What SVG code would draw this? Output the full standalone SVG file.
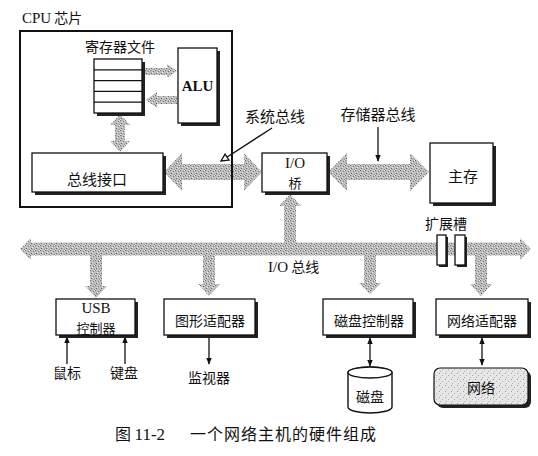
<svg xmlns="http://www.w3.org/2000/svg" width="538" height="456" viewBox="0 0 538 456">
<style>
.t{font-family:"Noto Sans CJK SC","Liberation Serif",serif;font-size:14px;fill:#111}
.s{font-family:"Liberation Serif","Noto Sans CJK SC",serif;font-size:14px;fill:#111}
.c{text-anchor:middle}
.box{fill:#fff;stroke:#111;stroke-width:1.3}
.sh{fill:#222}
.bus{fill:url(#stip)}
.ln{stroke:#111;stroke-width:1.3;fill:none}
</style>
<defs>
<pattern id="stip" width="5" height="5" patternUnits="userSpaceOnUse">
<rect width="5" height="5" fill="#bdbdbd"/>
<rect x="0" y="0" width="1" height="1" fill="#6a6a6a"/>
<rect x="3" y="1" width="1" height="1" fill="#777"/>
<rect x="1" y="3" width="1" height="1" fill="#666"/>
<rect x="4" y="4" width="1" height="1" fill="#888"/>
<rect x="2" y="2" width="1" height="1" fill="#e8e8e8"/>
<rect x="4" y="0" width="1" height="1" fill="#ececec"/>
<rect x="0" y="4" width="1" height="1" fill="#e0e0e0"/>
</pattern>
<pattern id="stip2" width="6" height="6" patternUnits="userSpaceOnUse">
<rect width="6" height="6" fill="#e6e6e6"/>
<rect x="1" y="1" width="1" height="1" fill="#999"/>
<rect x="4" y="3" width="1" height="1" fill="#aaa"/>
<rect x="2" y="5" width="1" height="1" fill="#b0b0b0"/>
</pattern>
<marker id="ah" viewBox="0 0 10 10" refX="9" refY="5" markerWidth="7" markerHeight="7" orient="auto-start-reverse" markerUnits="userSpaceOnUse">
<path d="M0,1 L10,5 L0,9 Z" fill="#111"/>
</marker>
<marker id="oh" viewBox="0 0 10 10" refX="9" refY="5" markerWidth="9" markerHeight="9" orient="auto" markerUnits="userSpaceOnUse">
<path d="M1,1 L9,5 L1,9 Z" fill="#fff" stroke="#111" stroke-width="1.4"/>
</marker>
</defs>
<rect width="538" height="456" fill="#fff"/>

<text class="t" x="22" y="23" style="font-size:14px"><tspan class="s" style="font-size:15px">CPU</tspan> 芯片</text>

<g id="connectors">
<polygon class="bus" points="20,249 31,238 31,242.5 520,242.5 520,238 531,249 520,260 520,255.5 31,255.5 31,260"/>
<polygon class="bus" points="164,172 182,153 182,164 244,164 244,153 262,172 244,191 244,180 182,180 182,191"/>
<polygon class="bus" points="328,172 347,153 347,164 410,164 410,153 429,172 410,191 410,180 347,180 347,191"/>
<polygon class="bus" points="144,68 167,68 167,64 177,71 167,78 167,75 144,75"/>
<polygon class="bus" points="146,100 157,92 157,96 177,96 177,104 157,104 157,108"/>
<polygon class="bus" points="120,114 130,125 125,125 125,141 130,141 120,152 110,141 115,141 115,125 110,125"/>
<polygon class="bus" points="284,250 284,206 279,206 290,194 301,206 296,206 296,250"/>
<polygon class="bus" points="90,254 102,254 102,286 107,286 96,298 85,286 90,286"/>
<polygon class="bus" points="203,254 215,254 215,284 220,284 209,296 198,284 203,284"/>
<polygon class="bus" points="364,254 376,254 376,283 381,283 370,294 359,283 364,283"/>
<polygon class="bus" points="475,254 487,254 487,284 492,284 481,296 470,284 475,284"/>
<line class="ln" x1="272" y1="128" x2="221" y2="161" marker-end="url(#oh)"/>
<line class="ln" x1="378" y1="127" x2="378" y2="161" marker-end="url(#ah)"/>
<line class="ln" x1="67" y1="364" x2="67" y2="337" marker-end="url(#ah)"/>
<line class="ln" x1="125" y1="364" x2="125" y2="337" marker-end="url(#ah)"/>
<line class="ln" x1="209" y1="337" x2="209" y2="364" marker-end="url(#ah)"/>
<line class="ln" x1="370" y1="338" x2="370" y2="366" marker-start="url(#ah)" marker-end="url(#ah)"/>
<line class="ln" x1="482" y1="338" x2="482" y2="365" marker-start="url(#ah)" marker-end="url(#ah)"/>
</g>

<g id="cpu-chip">
<rect x="20" y="31" width="212" height="176" fill="none" stroke="#111" stroke-width="2"/>
</g>

<g id="register-file">
<text class="t c" x="120" y="52">寄存器文件</text>
<rect class="sh" x="97" y="62" width="48" height="54"/>
<rect class="box" x="94" y="59" width="48" height="54"/>
<path class="ln" d="M94,69.8H142M94,80.6H142M94,91.4H142M94,102.2H142" stroke-width="1"/>
</g>

<g id="alu">
<rect class="sh" x="181" y="51" width="39" height="75"/>
<rect class="box" x="178" y="48" width="39" height="75"/>
<text class="s c" x="197.5" y="91" font-weight="bold" style="font-size:15px">ALU</text>
</g>

<g id="bus-interface">
<rect class="sh" x="35" y="156" width="131" height="39"/>
<rect class="box" x="32" y="153" width="131" height="39"/>
<text class="t c" x="97" y="185" style="font-size:15px">总线接口</text>
</g>

<text class="t c" x="275" y="122" style="font-size:15px">系统总线</text>
<text class="t c" x="378" y="120" style="font-size:15px">存储器总线</text>

<g id="io-bridge">
<rect class="sh" x="265" y="156" width="65" height="39"/>
<rect class="box" x="262" y="153" width="65" height="39"/>
<text class="s c" x="295" y="168" style="font-size:15px">I/O</text>
<text class="t c" x="295" y="188" style="font-size:13px">桥</text>
</g>

<g id="main-memory">
<rect class="sh" x="433" y="146" width="63" height="60"/>
<rect class="box" x="430" y="143" width="63" height="60"/>
<text class="t c" x="463" y="182" style="font-size:15px">主存</text>
</g>

<g id="expansion-slots">
<text class="t c" x="446" y="229">扩展槽</text>
<rect class="sh" x="439" y="237" width="9" height="30"/>
<rect class="box" x="437" y="235" width="9" height="30"/>
<rect class="sh" x="457" y="237" width="10" height="30"/>
<rect class="box" x="455" y="235" width="10" height="30"/>
</g>

<text class="t" x="268" y="272"><tspan class="s" style="font-size:15px">I/O</tspan> 总线</text>

<g id="usb-controller">
<rect class="sh" x="59" y="302" width="79" height="36"/>
<rect class="box" x="56" y="299" width="79" height="36"/>
<text class="s c" x="96" y="313" style="font-size:15px">USB</text>
<text class="t c" x="96" y="333" style="font-size:13px">控制器</text>
</g>

<g id="graphics-adapter">
<rect class="sh" x="167" y="302" width="91" height="36"/>
<rect class="box" x="164" y="299" width="91" height="36"/>
<text class="t c" x="210" y="326">图形适配器</text>
</g>

<g id="disk-controller">
<rect class="sh" x="326" y="302" width="90" height="36"/>
<rect class="box" x="323" y="299" width="90" height="36"/>
<text class="t c" x="369" y="326">磁盘控制器</text>
</g>

<g id="network-adapter">
<rect class="sh" x="439" y="302" width="92" height="36"/>
<rect class="box" x="436" y="299" width="92" height="36"/>
<text class="t c" x="482" y="326">网络适配器</text>
</g>

<g id="mouse"><text class="t c" x="67" y="378">鼠标</text></g>
<g id="keyboard"><text class="t c" x="124" y="378">键盘</text></g>
<g id="monitor"><text class="t c" x="209" y="383">监视器</text></g>

<g id="disk">
<path d="M348,372.5 V407 A22,6 0 0 0 392,407 V372.5 A22,5.5 0 0 0 348,372.5 Z" fill="#fff" stroke="#111" stroke-width="1.4"/>
<ellipse cx="370" cy="372.5" rx="22" ry="5.5" fill="#fff" stroke="#111" stroke-width="1.4"/>
<text class="t c" x="370" y="402">磁盘</text>
</g>

<g id="network">
<rect x="437" y="371" width="94" height="37" rx="6" fill="#222"/>
<rect x="434" y="368" width="94" height="37" rx="6" fill="url(#stip2)" stroke="#111" stroke-width="1.2"/>
<text class="t c" x="481" y="393">网络</text>
</g>

<text class="t" x="115" y="440" style="font-size:16px">图 <tspan class="s" style="font-size:17px">11-2</tspan></text>
<text class="t" x="190" y="440" style="font-size:16px" letter-spacing="1">一个网络主机的硬件组成</text>
</svg>
